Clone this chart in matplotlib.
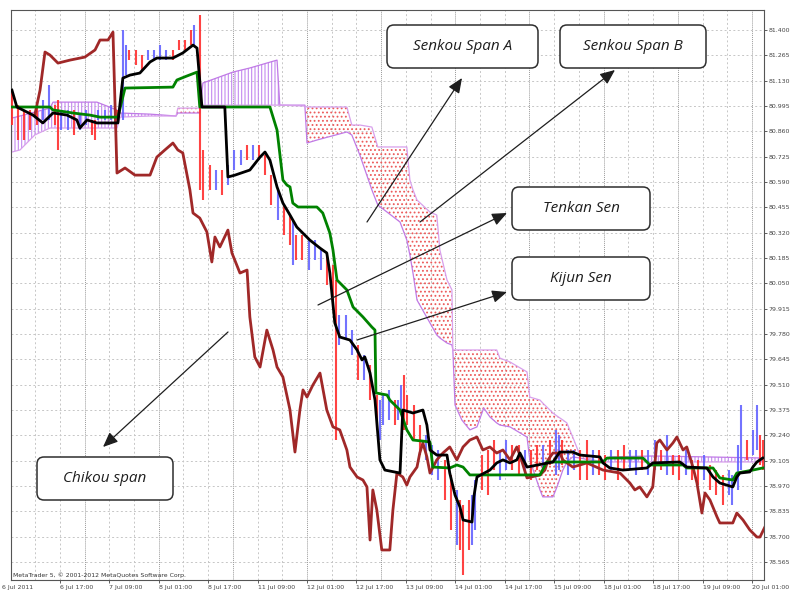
import matplotlib
matplotlib.use("Agg")
import matplotlib.pyplot as plt
import numpy as np
from matplotlib.patches import FancyBboxPatch, FancyArrowPatch
from matplotlib.transforms import IdentityTransform

# ---- axis labels ----
date_labels = ['6 Jul 2011', '6 Jul 17:00', '7 Jul 09:00', '8 Jul 01:00', '8 Jul 17:00',
               '11 Jul 09:00', '12 Jul 01:00', '12 Jul 17:00', '13 Jul 09:00', '14 Jul 01:00',
               '14 Jul 17:00', '15 Jul 09:00', '18 Jul 01:00', '18 Jul 17:00', '19 Jul 09:00',
               '20 Jul 01:00']
price_labels = ['81.400', '81.265', '81.130', '80.995', '80.860', '80.725', '80.590', '80.455',
                '80.320', '80.185', '80.050', '79.915', '79.780', '79.645', '79.510', '79.375',
                '79.240', '79.105', '78.970', '78.835', '78.700', '78.565']

# ---- price bars (bar index, high, low, 1 = up bar) ----
bars_idx = [0, 2, 4, 6, 8, 10, 12, 14, 15, 16,
            18, 20, 22, 24, 26, 27, 28, 30, 32, 34,
            36, 37, 38, 40, 42, 44, 46, 48, 50, 52,
            54, 56, 58, 59, 61, 62, 64, 66, 68, 70,
            72, 74, 76, 78, 80, 82, 84, 86, 88, 90,
            91, 92, 94, 96, 98, 100, 102, 104, 105, 106,
            108, 110, 112, 114, 116, 118, 119, 120, 122, 124,
            125, 126, 127, 128, 130, 132, 134, 136, 138, 140,
            142, 144, 145, 146, 148, 149, 150, 152, 154, 156,
            158, 160, 162, 164, 166, 168, 170, 172, 174, 176,
            177, 178, 180, 182, 184, 186, 188, 190, 192, 194,
            196, 198, 200, 202, 204, 206, 208, 210, 212, 214,
            216, 218, 220, 222, 224, 226, 228, 230, 232, 233,
            235, 236, 238, 240, 241, 242, 243]
bars_hi = [81.080, 81.000, 80.974, 80.974, 81.000, 81.027, 81.107, 81.000, 81.027, 80.974,
           80.974, 80.974, 80.947, 80.974, 80.921, 80.921, 80.974, 80.974, 81.000, 80.974,
           81.400, 81.320, 81.294, 81.294, 81.267, 81.294, 81.294, 81.320, 81.294, 81.294,
           81.347, 81.347, 81.400, 81.427, 81.480, 80.761, 80.681, 80.654, 80.654, 80.681,
           80.761, 80.761, 80.787, 80.787, 80.787, 80.734, 80.627, 80.548, 80.468, 80.414,
           80.388, 80.308, 80.308, 80.281, 80.281, 80.228, 80.201, 80.148, 80.068, 79.881,
           79.881, 79.801, 79.722, 79.668, 79.615, 79.455, 79.428, 79.455, 79.482, 79.428,
           79.428, 79.508, 79.562, 79.455, 79.402, 79.295, 79.242, 79.189, 79.162, 79.109,
           79.029, 78.949, 78.896, 78.869, 78.896, 78.922, 79.002, 79.135, 79.162, 79.215,
           79.162, 79.215, 79.189, 79.189, 79.162, 79.162, 79.189, 79.189, 79.215, 79.269,
           79.242, 79.215, 79.162, 79.162, 79.162, 79.215, 79.162, 79.162, 79.135, 79.162,
           79.162, 79.189, 79.162, 79.162, 79.162, 79.162, 79.215, 79.162, 79.242, 79.135,
           79.135, 79.162, 79.109, 79.109, 79.135, 79.082, 79.055, 79.029, 79.055, 79.029,
           79.189, 79.402, 79.215, 79.269, 79.402, 79.242, 79.215]
bars_lo = [80.894, 80.814, 80.814, 80.867, 80.894, 80.921, 80.921, 80.894, 80.761, 80.867,
           80.867, 80.841, 80.867, 80.894, 80.841, 80.814, 80.921, 80.921, 80.921, 80.921,
           80.921, 81.160, 81.240, 81.214, 81.187, 81.240, 81.240, 81.240, 81.240, 81.240,
           81.294, 81.294, 81.320, 81.320, 80.548, 80.494, 80.548, 80.548, 80.521, 80.574,
           80.654, 80.681, 80.707, 80.707, 80.707, 80.627, 80.468, 80.388, 80.308, 80.254,
           80.148, 80.174, 80.174, 80.121, 80.174, 80.121, 80.041, 79.961, 79.215, 79.722,
           79.748, 79.668, 79.535, 79.535, 79.428, 79.269, 79.215, 79.295, 79.322, 79.295,
           79.322, 79.348, 79.269, 79.295, 79.215, 79.135, 79.109, 79.029, 79.002, 78.896,
           78.736, 78.656, 78.629, 78.496, 78.629, 78.656, 78.736, 78.949, 78.922, 79.055,
           79.002, 79.055, 79.055, 79.029, 79.029, 79.002, 79.055, 79.055, 79.082, 79.029,
           79.055, 79.082, 79.029, 79.055, 79.002, 79.002, 79.029, 79.029, 79.002, 79.055,
           79.002, 79.055, 79.055, 79.029, 79.055, 79.029, 79.055, 79.055, 79.029, 79.029,
           79.002, 79.029, 79.002, 78.975, 79.002, 78.949, 78.922, 78.869, 78.922, 78.869,
           78.949, 79.055, 79.109, 79.135, 79.162, 79.082, 79.055]
bars_up = [0, 0, 0, 0, 0, 1, 1, 0, 0, 1,
           1, 0, 1, 1, 0, 0, 1, 1, 1, 0,
           1, 1, 0, 0, 0, 1, 1, 1, 1, 0,
           0, 0, 0, 1, 0, 0, 0, 1, 0, 1,
           1, 1, 0, 1, 0, 0, 0, 1, 0, 0,
           1, 0, 0, 1, 1, 1, 0, 0, 0, 1,
           1, 1, 0, 1, 0, 0, 1, 1, 1, 0,
           1, 1, 0, 0, 0, 0, 1, 1, 1, 0,
           0, 1, 0, 0, 0, 1, 1, 0, 0, 0,
           1, 1, 0, 0, 1, 0, 0, 1, 0, 1,
           1, 0, 1, 1, 0, 0, 1, 0, 0, 1,
           0, 0, 1, 1, 0, 1, 1, 0, 1, 0,
           0, 1, 0, 0, 1, 0, 0, 0, 1, 1,
           1, 1, 0, 1, 1, 0, 0]

# ---- Tenkan sen ----
tenkan_x = [0, 1.6, 6.8, 10.0, 13.3, 17.8, 21.0, 22.0, 24.3, 27.5, 34.3, 35.9, 38.2, 41.4, 44.7,
            46.9, 52.1, 55.3, 58.6, 59.9, 61.5, 68.9, 69.9, 72.2, 77.0, 80.3, 81.9, 83.5, 85.8,
            87.7, 90.0, 92.2, 96.4, 99.7, 101.9, 102.9, 104.5, 106.1, 109.4, 111.7, 113.3, 114.2,
            115.9, 117.5, 119.1, 120.7, 125.6, 126.5, 129.8, 133.0, 134.3, 135.3, 137.5, 140.8,
            141.7, 143.4, 145.0, 146.0, 148.9, 149.5, 150.5, 154.7, 156.9, 158.9, 161.2, 163.4,
            164.4, 166.7, 175.1, 177.3, 181.5, 183.8, 190.3, 191.3, 193.5, 197.7, 205.5, 207.4,
            216.2, 218.4, 224.9, 226.9, 229.1, 233.3, 234.6, 235.6, 238.8, 239.8, 241.1, 243.0]
tenkan_y = [81.080, 80.990, 80.947, 80.905, 80.958, 80.947, 80.921, 80.878, 80.921, 80.905, 80.905,
            81.144, 81.160, 81.171, 81.230, 81.251, 81.251, 81.278, 81.320, 81.304, 80.990, 80.990,
            80.617, 80.627, 80.654, 80.723, 80.750, 80.707, 80.564, 80.478, 80.414, 80.350, 80.281,
            80.238, 80.212, 80.105, 79.839, 79.764, 79.748, 79.695, 79.642, 79.658, 79.572, 79.428,
            79.109, 79.055, 79.039, 79.375, 79.359, 79.375, 79.295, 79.162, 79.135, 79.135, 79.039,
            78.922, 78.858, 78.789, 78.778, 78.912, 79.018, 79.055, 79.093, 79.109, 79.093, 79.109,
            79.146, 79.071, 79.098, 79.151, 79.151, 79.135, 79.125, 79.093, 79.066, 79.055, 79.066,
            79.093, 79.098, 79.071, 79.066, 79.018, 78.986, 78.965, 79.018, 79.039, 79.045, 79.071,
            79.098, 79.119]

# ---- Kijun sen ----
kijun_x = [0, 12.3, 13.3, 17.8, 19.7, 25.2, 28.5, 34.3, 36.6, 52.1, 53.4, 56.6, 59.9, 60.8, 83.5,
           85.8, 87.7, 89.0, 90.0, 90.9, 92.6, 98.7, 100.6, 102.9, 103.9, 105.2, 108.4, 110.4,
           113.6, 116.5, 117.5, 117.8, 121.4, 122.3, 125.6, 127.8, 129.8, 135.3, 136.2, 141.7,
           144.0, 146.0, 148.2, 170.9, 173.1, 191.3, 192.6, 204.2, 206.5, 217.2, 218.4, 226.9,
           229.1, 233.3, 234.6, 239.8, 243.0]
kijun_y = [80.990, 80.990, 80.974, 80.963, 80.958, 80.947, 80.936, 80.936, 81.091, 81.096, 81.134,
           81.155, 81.176, 80.990, 80.990, 80.867, 80.601, 80.574, 80.564, 80.478, 80.457, 80.457,
           80.425, 80.318, 80.228, 80.068, 80.015, 79.924, 79.871, 79.817, 79.801, 79.466, 79.455,
           79.428, 79.375, 79.269, 79.215, 79.205, 79.071, 79.066, 79.082, 79.071, 79.029, 79.029,
           79.098, 79.098, 79.119, 79.119, 79.082, 79.082, 79.066, 79.066, 79.013, 79.002, 79.039,
           79.055, 79.066]

# ---- Chikou span ----
chikou_x = [7.4, 9.1, 10.7, 12.3, 14.9, 18.8, 23.6, 26.9, 28.5, 31.1, 32.7, 34.0, 36.6, 39.8, 44.7,
            46.9, 49.5, 52.1, 53.7, 55.3, 57.6, 58.6, 60.8, 63.1, 64.7, 65.7, 67.3, 69.9, 71.2, 73.8,
            76.1, 77.0, 78.6, 80.3, 82.5, 84.5, 85.8, 87.7, 90.0, 91.6, 93.2, 94.2, 95.5, 97.4, 99.7,
            101.9, 103.9, 106.1, 108.4, 109.4, 111.7, 113.6, 114.9, 115.9, 116.8, 118.1, 119.7,
            122.3, 123.3, 124.6, 126.5, 127.8, 128.8, 131.1, 132.0, 133.0, 134.3, 135.3, 137.5,
            139.5, 141.7, 144.0, 146.0, 148.2, 150.5, 152.4, 154.7, 156.9, 158.9, 161.2, 163.4,
            164.4, 166.7, 170.9, 172.5, 173.5, 175.1, 177.3, 178.3, 181.5, 186.1, 191.3, 196.8,
            200.0, 201.6, 203.2, 205.5, 207.4, 208.7, 209.7, 212.0, 213.9, 215.2, 217.2, 218.4,
            220.4, 221.7, 223.3, 224.3, 225.9, 228.2, 229.1, 233.3, 234.6, 236.6, 238.8, 241.1,
            242.1, 243.7]
chikou_y = [80.947, 81.080, 81.283, 81.267, 81.224, 81.240, 81.256, 81.294, 81.347, 81.347, 81.389,
            80.638, 80.665, 80.627, 80.627, 80.723, 80.761, 80.798, 80.761, 80.745, 80.548, 80.425,
            80.398, 80.324, 80.164, 80.297, 80.244, 80.334, 80.212, 80.105, 80.121, 79.871, 79.658,
            79.604, 79.801, 79.695, 79.604, 79.551, 79.375, 79.151, 79.375, 79.482, 79.444, 79.508,
            79.572, 79.375, 79.285, 79.269, 79.162, 79.071, 79.018, 79.002, 78.965, 78.682, 78.949,
            78.842, 78.629, 78.629, 78.842, 79.039, 79.018, 78.975, 79.018, 79.071, 79.146, 79.199,
            79.125, 79.039, 79.109, 79.146, 79.178, 79.109, 79.178, 79.215, 79.231, 79.162, 79.178,
            79.146, 79.162, 79.109, 79.178, 79.135, 79.013, 79.029, 79.055, 79.109, 79.146, 79.146,
            79.109, 79.071, 79.093, 79.055, 79.039, 78.986, 78.949, 78.965, 78.912, 78.965, 79.199,
            79.215, 79.162, 79.199, 79.231, 79.162, 79.178, 79.071, 78.986, 78.826, 78.933, 78.896,
            78.805, 78.773, 78.773, 78.826, 78.789, 78.736, 78.698, 78.698, 78.752]

# ---- Kumo (Senkou span A / B) ----
cloud_x = [0, 2.6, 7.4, 12.3, 13.3, 27.5, 34.0, 35.0, 44.7, 53.1, 53.7, 60.8, 61.8, 71.5, 77.0,
           85.8, 86.7, 94.8, 95.5, 98.7, 108.4, 110.0, 112.6, 116.5, 118.4, 125.6, 127.8, 128.8,
           129.8, 131.1, 135.3, 137.5, 138.5, 140.8, 142.4, 142.7, 143.4, 145.6, 148.2, 150.5,
           152.7, 154.7, 156.9, 157.9, 161.2, 166.7, 167.6, 170.9, 171.8, 175.1, 176.4, 178.3,
           179.6, 181.5, 183.8, 190.3, 193.5, 207.4, 224.9, 243.7]
span_a = [80.931, 80.942, 80.963, 80.984, 81.016, 81.016, 80.974, 80.958, 80.952, 80.942,
          80.958, 80.958, 81.118, 81.176, 81.198, 81.240, 81.000, 81.000, 80.798, 80.814,
          80.857, 80.841, 80.734, 80.548, 80.468, 80.377, 80.281, 80.201, 80.105, 79.961,
          79.839, 79.775, 79.759, 79.732, 79.722, 79.695, 79.402, 79.322, 79.269, 79.285,
          79.386, 79.338, 79.306, 79.295, 79.285, 79.231, 79.109, 78.949, 78.912, 78.912,
          78.965, 79.055, 79.098, 79.125, 79.119, 79.098, 79.125, 79.130, 79.125, 79.119]
span_b = [80.750, 80.761, 80.841, 80.878, 80.878, 80.878, 80.878, 80.936, 80.942, 80.942,
          80.984, 80.984, 81.000, 81.000, 81.000, 81.000, 81.000, 80.995, 80.990, 80.990,
          80.990, 80.894, 80.894, 80.883, 80.777, 80.777, 80.777, 80.601, 80.548, 80.494,
          80.430, 80.414, 80.228, 80.068, 80.015, 79.695, 79.695, 79.695, 79.695, 79.695,
          79.695, 79.695, 79.695, 79.652, 79.631, 79.578, 79.444, 79.428, 79.412, 79.359,
          79.343, 79.322, 79.306, 79.231, 79.135, 79.098, 79.098, 79.098, 79.098, 79.098]

W, H = 791, 599
plt.rcParams['hatch.linewidth'] = 0.8

fig = plt.figure(figsize=(W / 100, H / 100), dpi=100)
fig.patch.set_facecolor('white')
ax = fig.add_axes([11 / W, 1 - 580 / H, 753 / W, 570 / H])
ax.set_xlim(-0.3, 243.4)
ax.set_ylim(78.469, 81.507)

price_ticks = [float(s) for s in price_labels]

# grid + day separators
for k in range(1, 31):
    gx = 8 * k - 0.5
    if k % 3 == 0:
        ax.axvline(gx, color='#9a9a9a', lw=0.7, ls=(0, (1, 1)), zorder=0)
    else:
        ax.axvline(gx, color='#c6c6c6', lw=0.7, ls=(0, (2, 2.5)), zorder=0)
for p in price_ticks:
    ax.axhline(p, color='#c6c6c6', lw=0.7, ls=(0, (2, 2.5)), zorder=0)

# cloud
cx = np.array(cloud_x)
a = np.array(span_a)
b = np.array(span_b)
ax.fill_between(cx, a, b, where=a >= b, interpolate=True, facecolor='none',
                edgecolor='#c48af0', hatch='|||||', lw=0, zorder=1)
ax.fill_between(cx, a, b, where=b > a, interpolate=True, facecolor='none',
                edgecolor='#ec5a5a', hatch='....', lw=0, zorder=1)
ax.plot(cx, a, color='#c07ae6', lw=0.9, zorder=2)
ax.plot(cx, b, color='#d8a0ec', lw=0.9, zorder=2)

# price bars
bar_cols = ['#6464ff' if u else '#ff2e2e' for u in bars_up]
ax.vlines(bars_idx, bars_lo, bars_hi, colors=bar_cols, lw=1.5, alpha=0.9, zorder=3)

# lines
ax.plot(chikou_x, chikou_y, color='#a02828', lw=2.0, zorder=4)
ax.plot(kijun_x, kijun_y, color='#008200', lw=2.0, zorder=5)
ax.plot(tenkan_x, tenkan_y, color='black', lw=2.0, zorder=6)

# axes styling
for s in ax.spines.values():
    s.set_color('#555555')
    s.set_linewidth(0.8)
ax.yaxis.tick_right()
ax.set_yticks(price_ticks)
ax.set_yticklabels(price_labels)
ax.tick_params(axis='y', direction='out', length=2.0, width=0.6, pad=1.0,
               labelsize=4.5, colors='#444444')
date_pos = [16 * k - 0.5 for k in range(len(date_labels))]
ax.set_xticks(date_pos[1:])
ax.set_xticklabels(date_labels[1:])
ax.tick_params(axis='x', direction='out', length=2.5, width=0.6, pad=1.2,
               labelsize=4.5, colors='#444444')
for t in ax.get_xticklabels():
    t.set_horizontalalignment('left')
ax.annotate(date_labels[0], xy=(-3.3, 0), xycoords=ax.get_xaxis_transform(),
            xytext=(0, -3.7), textcoords='offset points', va='top', ha='left',
            fontsize=4.5, color='#444444', annotation_clip=False)
ax.text(0.002, 0.004, 'MetaTrader 5, \u00a9 2001-2012 MetaQuotes Software Corp.',
        transform=ax.transAxes, fontsize=4.4, color='#333333', va='bottom', zorder=7)

# callout boxes (pixel positions, top-left origin)
boxes = [('Senkou Span A', 387, 25, 151, 43),
         ('Senkou Span B', 560, 25, 146, 43),
         ('Tenkan Sen', 512, 187, 138, 43),
         ('Kijun Sen', 512, 257, 138, 43),
         ('Chikou span', 37, 457, 136, 43)]
for label, x0, y0, w, h in boxes:
    box = FancyBboxPatch((x0, H - y0 - h), w, h, boxstyle='round,pad=0,rounding_size=7',
                         transform=IdentityTransform(), facecolor='white',
                         edgecolor='#2e2e2e', lw=1.1, zorder=10)
    fig.add_artist(box)
    fig.text((x0 + w / 2) / W, 1 - (y0 + h / 2) / H, label, ha='center', va='center',
             fontsize=11, style='italic', family='Open Sans', color='#1e1e1e', zorder=11)

arrows = [((367, 222), (462, 78)),
          ((420, 222), (615, 70)),
          ((318, 305), (507, 213)),
          ((357, 340), (507, 292)),
          ((228, 332), (103, 447))]
for (tx, ty), (hx, hy) in arrows:
    arr = FancyArrowPatch((tx, H - ty), (hx, H - hy), transform=IdentityTransform(),
                          arrowstyle='-|>,head_length=0.75,head_width=0.32',
                          mutation_scale=12, color='#1e1e1e', lw=0.9,
                          shrinkA=0, shrinkB=0, zorder=9)
    fig.add_artist(arr)

fig.savefig('out.png', dpi=100, facecolor='white')
